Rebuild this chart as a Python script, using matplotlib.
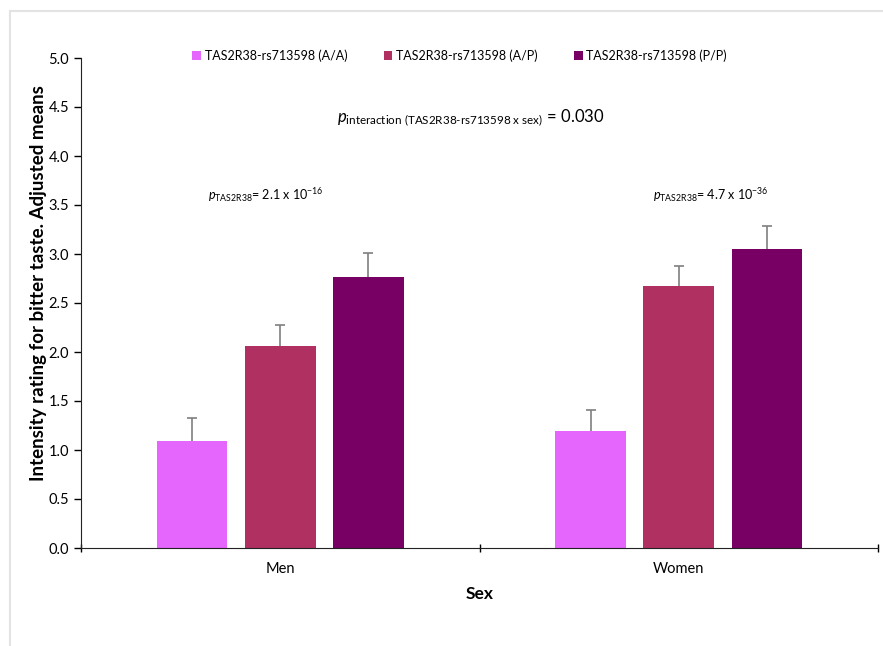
import matplotlib.pyplot as plt
import numpy as np
from matplotlib.patches import Rectangle

plt.rcParams['font.family'] = ['Lato', 'DejaVu Sans']
plt.rcParams['mathtext.fontset'] = 'custom'
plt.rcParams['mathtext.rm'] = 'Lato'
plt.rcParams['mathtext.it'] = 'Lato:italic'

sexes = ['Men', 'Women']
genotypes = ['TAS2R38-rs713598 (A/A)', 'TAS2R38-rs713598 (A/P)', 'TAS2R38-rs713598 (P/P)']
means = [[1.09, 1.19],
         [2.06, 2.67],
         [2.77, 3.05]]
errors = [[0.24, 0.22],
          [0.22, 0.21],
          [0.24, 0.24]]
colors = ['#E466FC', '#B03062', '#780064']

fig = plt.figure(figsize=(8.83, 6.46), dpi=100)
ax = fig.add_axes([81/883, (646-548)/646, (878-81)/883, (548-58)/646])

# light frame around the chart area
fig.patches.append(Rectangle((10/883, -0.1), 1.2, (646-11)/646 + 0.1,
                             transform=fig.transFigure, fill=False,
                             edgecolor='#e3e3e3', linewidth=1.5))

x = np.arange(len(sexes))
step = 0.221
width = 0.177
for i, (g, m, e, c) in enumerate(zip(genotypes, means, errors, colors)):
    pos = x + (i - 1) * step
    ax.bar(pos, m, width, color=c, label=g, zorder=2)
    eb = ax.errorbar(pos, m, yerr=[np.zeros(len(e)), e], fmt='none',
                     ecolor='#7f7f7f', elinewidth=1.2, capsize=3.5, capthick=1.2, zorder=3)
    # upper whisker only
    eb[1][0].set_visible(False)

ax.set_xlim(-0.5, 1.5)
ax.set_ylim(0, 5)
ax.set_yticks(np.arange(0, 5.01, 0.5))
ax.set_yticklabels([f'{v:.1f}' for v in np.arange(0, 5.01, 0.5)], fontsize=10.5)
ax.set_xticks([-0.5, 0.5, 1.5])
ax.set_xticklabels([])
ax.set_xticks(x, minor=True)
ax.set_xticklabels(sexes, minor=True, fontsize=10.5)
ax.tick_params(axis='x', which='minor', length=0, pad=10)
ax.tick_params(axis='x', which='major', length=6, width=1, direction='inout')
ax.tick_params(axis='y', length=5, width=1, direction='out')
for s in ['top', 'right']:
    ax.spines[s].set_visible(False)
ax.spines['left'].set_color('#222222')
ax.spines['bottom'].set_color('#222222')

ax.set_ylabel('Intensity rating for bitter taste. Adjusted means',
              fontsize=13.5, fontweight='bold')
ax.yaxis.set_label_coords(-0.043, 0.54)
ax.set_xlabel('Sex', fontsize=12.5, fontweight='bold')
ax.xaxis.set_label_coords(0.5, -0.078)

ax.legend(loc='upper center', bbox_to_anchor=(0.475, 1.04), ncol=3, frameon=False,
          fontsize=9, handlelength=0.7, handleheight=0.7, handletextpad=0.3,
          columnspacing=2.9)

ax.text(0.489, 0.877,
        r'$\mathit{p}_{\mathrm{interaction\ (TAS2R38\text{-}rs713598\ x\ sex)}}$ = 0.030',
        transform=ax.transAxes, ha='center', va='center', fontsize=12)
ax.text(-0.036, 3.60, r'$\mathit{p}_{\mathrm{TAS2R38}}$= 2.1 x 10$^{\mathrm{-16}}$',
        ha='center', va='center', fontsize=9)
ax.text(1.081, 3.60, r'$\mathit{p}_{\mathrm{TAS2R38}}$= 4.7 x 10$^{\mathrm{-36}}$',
        ha='center', va='center', fontsize=9)

fig.savefig('out.png', dpi=100)
